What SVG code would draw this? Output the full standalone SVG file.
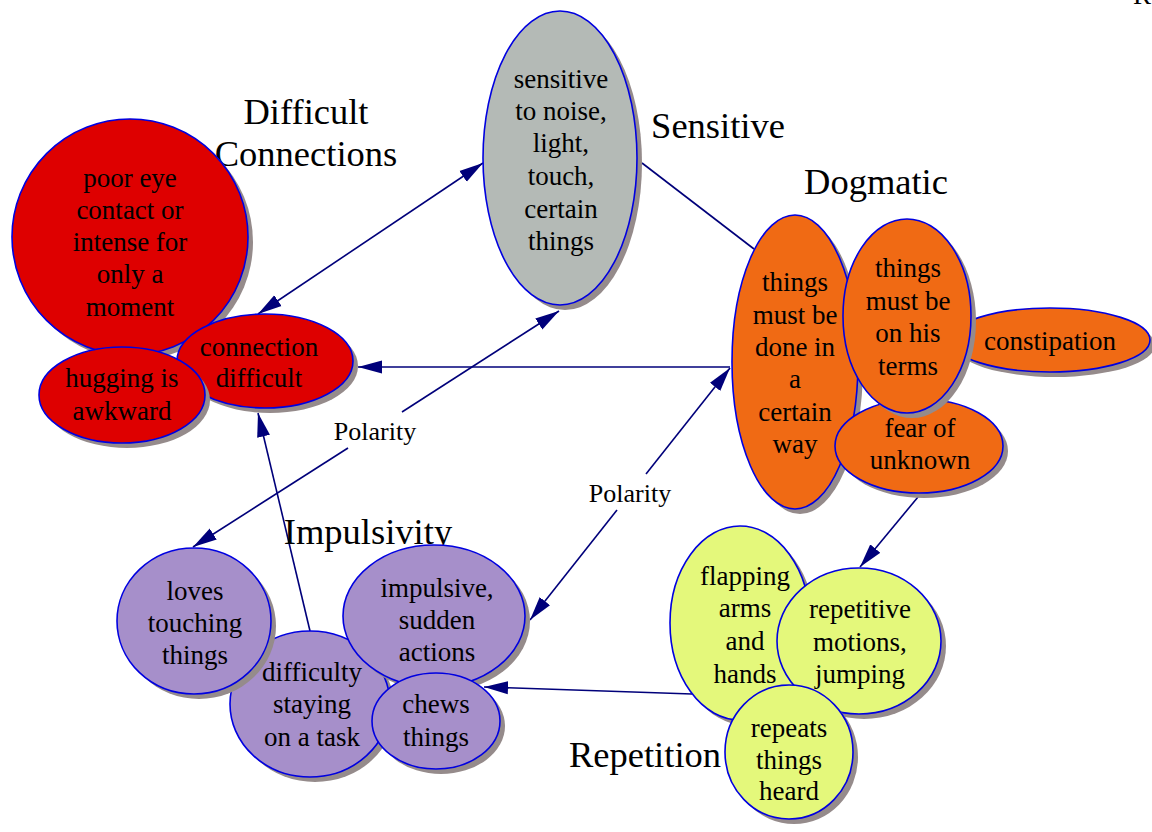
<svg xmlns="http://www.w3.org/2000/svg" width="1152" height="832" viewBox="0 0 1152 832">
<defs>
<marker id="ah" markerUnits="userSpaceOnUse" markerWidth="24" markerHeight="14" viewBox="0 0 22 12" refX="22" refY="6" orient="auto-start-reverse">
<path d="M0,0 L22,6 L0,12 z" fill="#00007a"/>
</marker>
</defs>
<style>
text{font-family:"Liberation Serif","Times New Roman",serif;fill:#000;}
.n{font-size:27px;text-anchor:middle;}
.t{font-size:36.5px;text-anchor:middle;}
.lab{font-size:26px;text-anchor:middle;}
.sh{fill:#958b8b;}
.e{stroke:#0000e0;stroke-width:1.6;}
.red{fill:#de0000;}
.gry{fill:#b4bab6;}
.org{fill:#f06a14;}
.pur{fill:#a68fca;}
.yel{fill:#e4f87b;}
.c{stroke:#00007a;stroke-width:1.6;fill:none;}
</style>
<rect width="1152" height="832" fill="#fff"/>
<text x="1133" y="4" style="font-size:27px">R</text>

<g id="connectors">
<line class="c" x1="483" y1="163" x2="258" y2="314" marker-start="url(#ah)" marker-end="url(#ah)"/>
<line class="c" x1="730" y1="367" x2="358" y2="367" marker-end="url(#ah)"/>
<line class="c" x1="402" y1="412" x2="559" y2="311" marker-end="url(#ah)"/>
<line class="c" x1="348" y1="448" x2="193" y2="547" marker-end="url(#ah)"/>
<line class="c" x1="646" y1="474" x2="730" y2="368" marker-end="url(#ah)"/>
<line class="c" x1="617" y1="510" x2="530" y2="620" marker-end="url(#ah)"/>
<line class="c" x1="642" y1="163" x2="754" y2="249"/>
<line class="c" x1="310" y1="631" x2="258" y2="413" marker-end="url(#ah)"/>
<line class="c" x1="918" y1="497" x2="860" y2="567" marker-end="url(#ah)"/>
<line class="c" x1="692" y1="694" x2="484" y2="687" marker-end="url(#ah)"/>
<text class="lab" x="375" y="440">Polarity</text>
<text class="lab" x="630" y="502">Polarity</text>
</g>

<g id="titles">
<text class="t" x="306" y="124">Difficult</text>
<text class="t" x="306" y="166">Connections</text>
<text class="t" x="718" y="138">Sensitive</text>
<text class="t" x="876" y="194">Dogmatic</text>
<text class="t" x="368" y="544">Impulsivity</text>
<text class="t" x="645" y="767">Repetition</text>
</g>

<g id="n-poor-eye">
<ellipse class="sh" cx="135" cy="242" rx="118" ry="118"/>
<ellipse class="e red" cx="130" cy="237" rx="118" ry="118"/>
<text class="n" x="130" y="187">poor eye</text>
<text class="n" x="130" y="219">contact or</text>
<text class="n" x="130" y="251">intense for</text>
<text class="n" x="130" y="283">only a</text>
<text class="n" x="130" y="316">moment</text>
</g>
<g id="n-connection">
<ellipse class="sh" cx="270" cy="366" rx="88" ry="47"/>
<ellipse class="e red" cx="265" cy="361" rx="88" ry="47"/>
<text class="n" x="259" y="356">connection</text>
<text class="n" x="259" y="387">difficult</text>
</g>
<g id="n-hugging">
<ellipse class="sh" cx="127" cy="400" rx="83" ry="48"/>
<ellipse class="e red" cx="122" cy="395" rx="83" ry="48"/>
<text class="n" x="122" y="387">hugging is</text>
<text class="n" x="122" y="420">awkward</text>
</g>

<g id="n-sensitive">
<ellipse class="sh" cx="565" cy="163" rx="77" ry="147"/>
<ellipse class="e gry" cx="560" cy="158" rx="77" ry="147"/>
<text class="n" x="561" y="88">sensitive</text>
<text class="n" x="561" y="120">to noise,</text>
<text class="n" x="561" y="152">light,</text>
<text class="n" x="561" y="185">touch,</text>
<text class="n" x="561" y="218">certain</text>
<text class="n" x="561" y="250">things</text>
</g>

<g id="n-done-in">
<ellipse class="sh" cx="800" cy="367" rx="63" ry="147"/>
<ellipse class="e org" cx="795" cy="362" rx="63" ry="147"/>
<text class="n" x="795" y="291">things</text>
<text class="n" x="795" y="324">must be</text>
<text class="n" x="795" y="356">done in</text>
<text class="n" x="795" y="388">a</text>
<text class="n" x="795" y="421">certain</text>
<text class="n" x="795" y="453">way</text>
</g>
<g id="n-constipation">
<ellipse class="sh" cx="1055" cy="345" rx="100" ry="32"/>
<ellipse class="e org" cx="1050" cy="340" rx="100" ry="32"/>
<text class="n" x="1050" y="350">constipation</text>
</g>
<g id="n-fear">
<ellipse class="sh" cx="924" cy="451" rx="84" ry="47"/>
<ellipse class="e org" cx="919" cy="446" rx="84" ry="47"/>
<text class="n" x="920" y="437">fear of</text>
<text class="n" x="920" y="469">unknown</text>
</g>
<g id="n-his-terms">
<ellipse class="sh" cx="912" cy="321" rx="64" ry="97"/>
<ellipse class="e org" cx="907" cy="316" rx="64" ry="97"/>
<text class="n" x="908" y="277">things</text>
<text class="n" x="908" y="310">must be</text>
<text class="n" x="908" y="342">on his</text>
<text class="n" x="908" y="375">terms</text>
</g>

<g id="n-difficulty">
<ellipse class="sh" cx="315" cy="709" rx="80" ry="73"/>
<ellipse class="e pur" cx="310" cy="704" rx="80" ry="73"/>
<text class="n" x="312" y="681">difficulty</text>
<text class="n" x="312" y="713">staying</text>
<text class="n" x="312" y="746">on a task</text>
</g>
<g id="n-loves">
<ellipse class="sh" cx="199" cy="626" rx="77" ry="73"/>
<ellipse class="e pur" cx="194" cy="621" rx="77" ry="73"/>
<text class="n" x="195" y="600">loves</text>
<text class="n" x="195" y="632">touching</text>
<text class="n" x="195" y="664">things</text>
</g>
<g id="n-impulsive">
<ellipse class="sh" cx="439" cy="621" rx="91" ry="71"/>
<ellipse class="e pur" cx="434" cy="616" rx="91" ry="71"/>
<text class="n" x="437" y="597">impulsive,</text>
<text class="n" x="437" y="629">sudden</text>
<text class="n" x="437" y="661">actions</text>
</g>
<g id="n-chews">
<ellipse class="sh" cx="441" cy="726" rx="64" ry="48"/>
<ellipse class="e pur" cx="436" cy="721" rx="64" ry="48"/>
<text class="n" x="436" y="713">chews</text>
<text class="n" x="436" y="746">things</text>
</g>

<g id="n-flapping">
<ellipse class="sh" cx="745" cy="628" rx="70" ry="97"/>
<ellipse class="e yel" cx="740" cy="623" rx="70" ry="97"/>
<text class="n" x="745" y="585">flapping</text>
<text class="n" x="745" y="617">arms</text>
<text class="n" x="745" y="650">and</text>
<text class="n" x="745" y="683">hands</text>
</g>
<g id="n-repetitive">
<ellipse class="sh" cx="864" cy="646" rx="82" ry="73"/>
<ellipse class="e yel" cx="859" cy="641" rx="82" ry="73"/>
<text class="n" x="860" y="618">repetitive</text>
<text class="n" x="860" y="651">motions,</text>
<text class="n" x="860" y="683">jumping</text>
</g>
<g id="n-repeats">
<ellipse class="sh" cx="794" cy="757" rx="64" ry="67"/>
<ellipse class="e yel" cx="789" cy="752" rx="64" ry="67"/>
<text class="n" x="789" y="737">repeats</text>
<text class="n" x="789" y="769">things</text>
<text class="n" x="789" y="800">heard</text>
</g>
</svg>
